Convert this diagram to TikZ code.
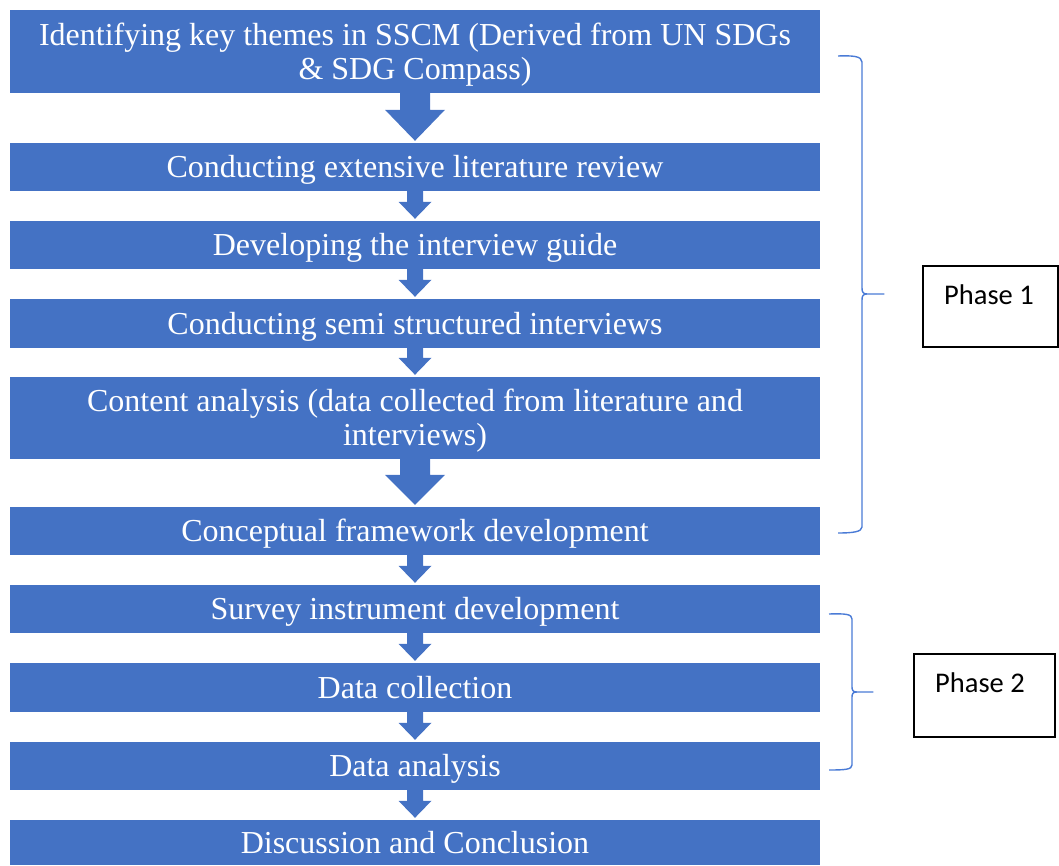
\documentclass[tikz,border=0pt]{standalone}
\usepackage{fontspec}
\setmainfont{Liberation Serif}
\newfontfamily\phasefont{Carlito}
\usetikzlibrary{calc}
\definecolor{flowblue}{HTML}{4472C4}
\definecolor{bracketblue}{HTML}{4A7BD6}

% Block arrow between two stacked boxes: source, target, shaft half-width,
% head half-width, head length
\newcommand{\blockarrow}[5]{%
  \fill[flowblue] let \p1=(#1.south), \p2=(#2.north) in
    (\x1-#3,\y1) -- (\x1+#3,\y1) -- (\x1+#3,\y2+#5+2pt) -- (\x1+#4,\y2+#5+2pt)
    -- (\x1,\y2+2pt) -- (\x1-#4,\y2+#5+2pt) -- (\x1-#3,\y2+#5+2pt) -- cycle;}
% strut that gives the first line of a two-line box its full ascent
\newcommand{\lineascent}{\rule{0pt}{28pt}}

\begin{document}
\begin{tikzpicture}[x=1pt,y=1pt,
  basebox/.style={rectangle, fill=flowblue, text=white, minimum width=810pt,
    inner sep=0pt, align=center, font=\fontsize{32}{34}\selectfont},
  stepbox/.style={basebox, minimum height=48pt, text height=28.5pt, text depth=6.9pt},
  tallbox/.style={basebox, minimum height=83pt},
  phasebox/.style={rectangle, draw=black, line width=1.2pt, fill=white, inner sep=0pt},
  phaselabel/.style={anchor=base west, inner sep=0pt, text=black,
    font=\phasefont\fontsize{28.5}{34}\selectfont},
  bracket/.style={draw=bracketblue, line width=1.4pt, line join=round}]
\useasboundingbox (0,0) rectangle (1059,865);

% process steps
\node[tallbox] (b1) at (415,813.5) {\lineascent Identifying key themes in SSCM (Derived from UN SDGs\\\& SDG Compass)};
\node[stepbox] (b2) at (415,698) {Conducting extensive literature review};
\node[stepbox] (b3) at (415,620) {Developing the interview guide};
\node[stepbox, minimum height=49pt] (b4) at (415,541.5) {Conducting semi structured interviews};
\node[tallbox, minimum height=82pt] (b5) at (415,447) {\lineascent Content analysis (data collected from literature and\\interviews)};
\node[stepbox] (b6) at (415,334) {Conceptual framework development};
\node[stepbox] (b7) at (415,256) {Survey instrument development};
\node[stepbox, minimum height=49pt] (b8) at (415,177.5) {Data collection};
\node[stepbox] (b9) at (415,99) {Data analysis};
\node[stepbox, minimum height=45pt] (b10) at (415,22.5) {Discussion and Conclusion};

% arrows between steps
\blockarrow{b1}{b2}{15pt}{30pt}{31pt}
\blockarrow{b2}{b3}{8pt}{16.5pt}{17pt}
\blockarrow{b3}{b4}{8pt}{16.5pt}{17pt}
\blockarrow{b4}{b5}{8pt}{16.5pt}{17pt}
\blockarrow{b5}{b6}{15pt}{30pt}{30pt}
\blockarrow{b6}{b7}{8pt}{16.5pt}{17pt}
\blockarrow{b7}{b8}{8pt}{16.5pt}{17pt}
\blockarrow{b8}{b9}{8pt}{16.5pt}{17pt}
\blockarrow{b9}{b10}{8pt}{16.5pt}{17pt}

% phase braces
\draw[bracket] (838,809) .. controls (852,809.5) and (862,809) .. (862,803)
  -- (862,577) .. controls (862,573) and (863,571) .. (867,571) -- (884,571)
  -- (867,571) .. controls (863,571) and (862,569) .. (862,565)
  -- (862,338) .. controls (862,333) and (852,332) .. (838,332);
\draw[bracket] (829,251) .. controls (845,251.5) and (852,251) .. (852,246)
  -- (852,178) .. controls (852,174.5) and (853,173) .. (857,173) -- (873,173)
  -- (857,173) .. controls (853,173) and (852,171.5) .. (852,168)
  -- (852,100) .. controls (852,95.5) and (845,95) .. (829,95);

% phase labels
\node[phasebox, minimum width=135pt, minimum height=81pt] (ph1) at (990.5,558.5) {};
\node[phaselabel] (t1) at (944,560) {Phase 1};
\node[phasebox, minimum width=141pt, minimum height=83pt] (ph2) at (984.5,169.5) {};
\node[phaselabel] (t2) at (935,173) {Phase 2};
\end{tikzpicture}
\end{document}
